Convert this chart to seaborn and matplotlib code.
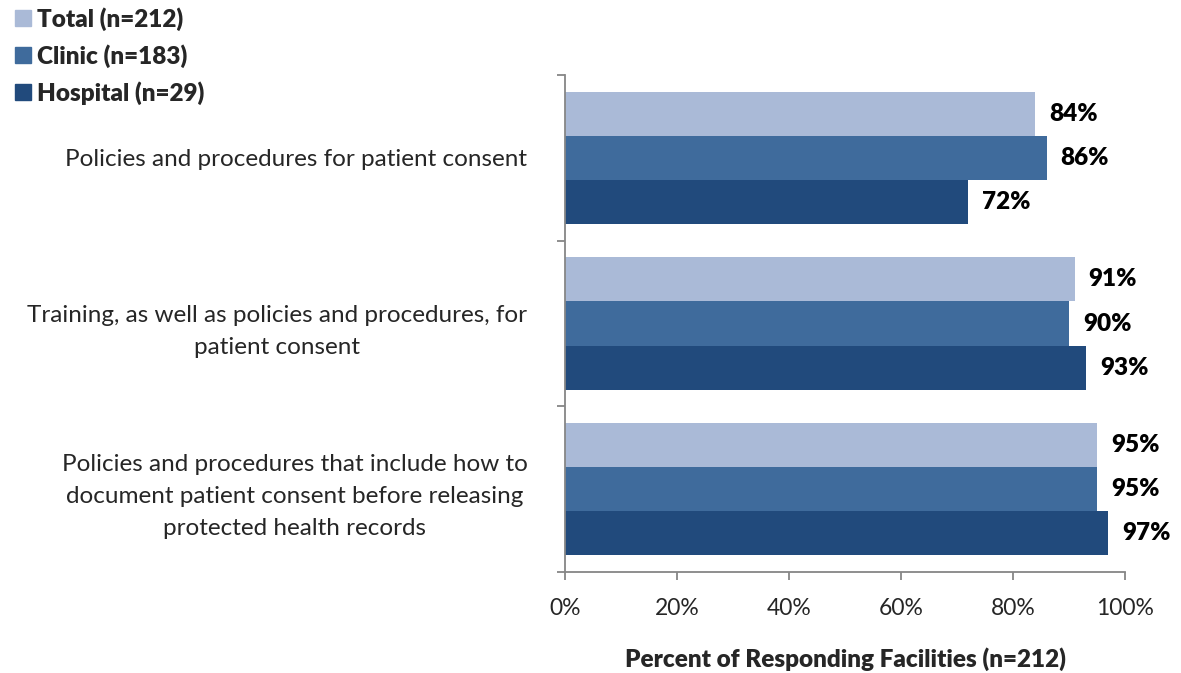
import matplotlib
matplotlib.use("Agg")
import matplotlib.pyplot as plt
from matplotlib.lines import Line2D
from matplotlib.ticker import FixedLocator, PercentFormatter
import seaborn as sns
import pandas as pd

categories = [
    "Policies and procedures for patient consent",
    "Training, as well as policies and procedures, for\npatient consent",
    "Policies and procedures that include how to\ndocument patient consent before releasing\nprotected health records",
]
groups = ["Total (n=212)", "Clinic (n=183)", "Hospital (n=29)"]
total_vals = [84, 91, 95]
clinic_vals = [86, 90, 95]
hospital_vals = [72, 93, 97]
tick_values = [0, 20, 40, 60, 80, 100]
x_title = "Percent of Responding Facilities (n=212)"

colors = ["#AABAD7", "#3F6B9C", "#214A7C"]
axis_gray = "#868686"

rows = []
for grp, vals in zip(groups, [total_vals, clinic_vals, hospital_vals]):
    for cat, v in zip(categories, vals):
        rows.append({"Category": cat, "Group": grp, "Value": v})
df = pd.DataFrame(rows)

sns.set_theme(style="white")
plt.rcParams["font.family"] = ["Lato", "DejaVu Sans"]

fig = plt.figure(figsize=(11.81, 6.73), dpi=100)
ax = fig.add_axes([0.4784, 0.150, 0.4742, 0.7385])

sns.barplot(data=df, y="Category", x="Value", hue="Group", order=categories,
            hue_order=groups, palette=colors, orient="h", width=0.8,
            saturation=1, linewidth=0, ax=ax, legend=False)

ax.set_xlim(0, 100)
ax.set_ylim(2.5, -0.5)

# value labels at the end of each bar
for container in ax.containers:
    for bar in container:
        w = bar.get_width()
        ax.annotate(f"{w:.0f}%", (w, bar.get_y() + bar.get_height() / 2),
                    xytext=(14, 0), textcoords="offset pixels",
                    ha="left", va="center", fontsize=17.5, fontweight="heavy",
                    color="black")

# axes styling
for s in ["top", "right"]:
    ax.spines[s].set_visible(False)
for s in ["left", "bottom"]:
    ax.spines[s].set_color(axis_gray)
    ax.spines[s].set_linewidth(1.3)

ax.xaxis.set_major_locator(FixedLocator(tick_values))
ax.xaxis.set_major_formatter(PercentFormatter(decimals=0))
ax.tick_params(axis="x", direction="out", length=6, width=1.3, color=axis_gray,
               labelsize=16.5, pad=13, bottom=True)

ax.yaxis.set_major_locator(FixedLocator([-0.5, 0.5, 1.5, 2.5]))
ax.yaxis.set_minor_locator(FixedLocator([0, 1, 2]))
ax.set_yticklabels([], minor=False)
ax.set_yticklabels(categories, minor=True)
ax.tick_params(axis="y", which="major", direction="out", length=6, width=1.3,
               color=axis_gray, left=True)
ax.tick_params(axis="y", which="minor", length=0, labelsize=17.5, pad=27)
for lbl in ax.get_yticklabels(minor=True):
    lbl.set_multialignment("center")
    lbl.set_linespacing(1.65)

ax.set_ylabel("")
ax.set_xlabel(x_title, fontsize=17.5, fontweight="heavy", labelpad=20)
ax.grid(False)

handles = [Line2D([0], [0], marker="s", linestyle="none", markersize=11,
                  markerfacecolor=c, markeredgecolor=c) for c in colors]
fig.legend(handles, groups, loc="upper left", bbox_to_anchor=(-0.004, 1.015),
           frameon=False, prop={"weight": "heavy", "size": 17.5},
           handletextpad=0.1, labelspacing=0.55, handlelength=0.9,
           borderaxespad=0.3)

fig.savefig("out.png", dpi=100)
